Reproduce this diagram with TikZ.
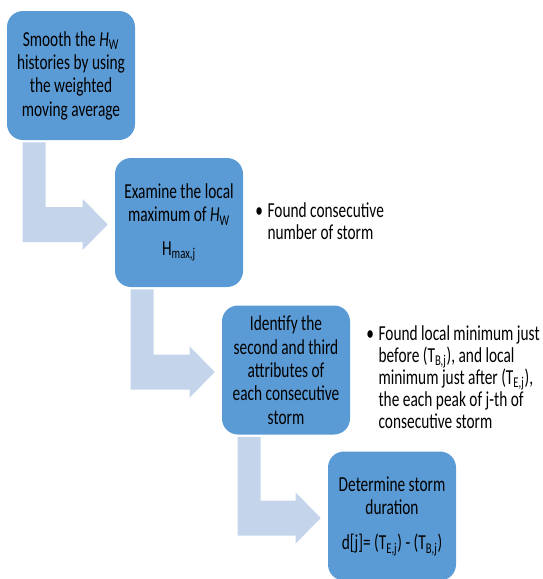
\documentclass[tikz,border=0pt]{standalone}
\usepackage{fontspec}
\setmainfont{Carlito}[FakeStretch=0.72]
\usetikzlibrary{calc,positioning}
\definecolor{stepblue}{RGB}{91,155,213}
\definecolor{flowblue}{RGB}{196,213,235}
\newcommand{\bentflow}[2]{\fill[flowblue] ($(#1.south west)+(16,2)$) -- ($(#1.south west)+(39,2)$) |- ($(#2.west)+(-32,-15.5)$) -- ++(0,-8) -- ($(#2.west)+(-7,2)$) -- ($(#2.west)+(-32,27.5)$) -- ++(0,-8) -| ($(#1.south west)+(16,2)$) -- cycle;}

\begin{document}
\begin{tikzpicture}[x=0.75pt,y=-0.75pt,
  stepbox/.style={fill=stepblue, rounded corners=12pt, minimum width=96pt, minimum height=96.75pt, inner sep=0pt, align=center, font=\fontsize{16}{17.5}\selectfont},
  bulletnote/.style={anchor=base west, inner sep=0pt, font=\fontsize{16}{16.5}\selectfont}]
\useasboundingbox (0,0) rectangle (543,579);
\node[stepbox] (smooth) at (71,75.5) {Smooth the \textit{H}\textsubscript{W}\\histories by using\\the weighted\\moving average};
\node[stepbox] (examine) at (179,222.5) {Examine the local\\maximum of \textit{H}\textsubscript{W}\\[7.5pt]H\textsubscript{max,j}};
\node[stepbox] (identify) at (286,370) {Identify the\\second and third\\attributes of\\each consecutive\\storm};
\node[stepbox] (duration) at (392,516) {Determine storm\\duration\\[9pt]d[j]= (T\textsubscript{E,j}) - (T\textsubscript{B,j})};
\node[bulletnote] (examinenote) at (255,217) {\begin{tabular}[t]{@{}l@{\hspace{3.5pt}}l@{}}\textbullet & Found consecutive\\ & number of storm\end{tabular}};
\node[bulletnote] (identifynote) at (366,340) {\begin{tabular}[t]{@{}l@{\hspace{3.5pt}}l@{}}\textbullet & Found local minimum just\\ & before (T\textsubscript{B,j}), and local\\ & minimum just after (T\textsubscript{E,j}),\\ & the each peak of j-th of\\ & consecutive storm\end{tabular}};
\bentflow{smooth}{examine}
\bentflow{examine}{identify}
\bentflow{identify}{duration}
\end{tikzpicture}
\end{document}
